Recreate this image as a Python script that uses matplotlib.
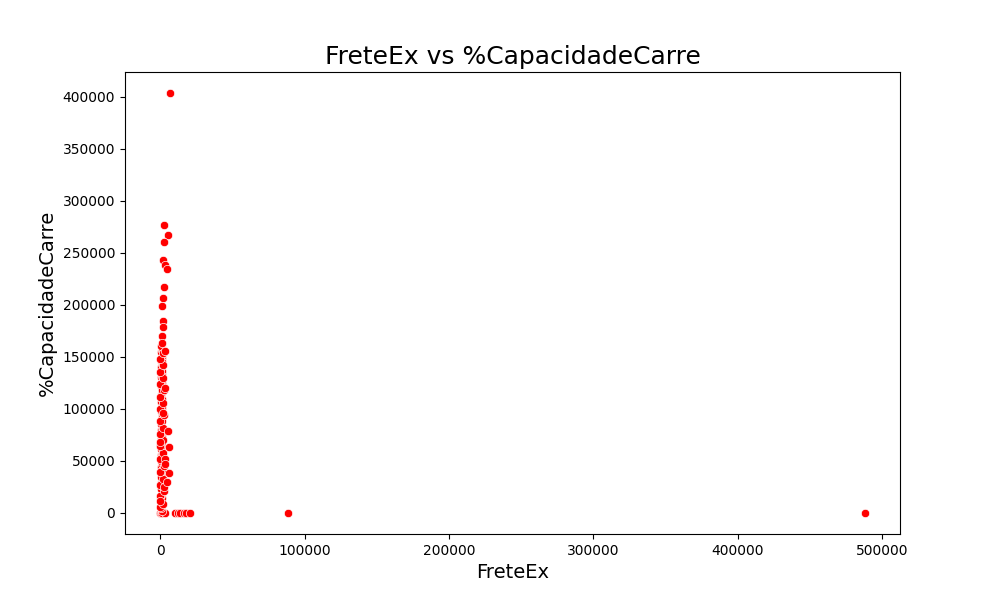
import matplotlib
matplotlib.use("Agg")
import matplotlib.pyplot as plt
import seaborn as sns
import pandas as pd

# Outlying points
outlier_frete = [6900, 2800, 5300, 2300, 1600, 3500, 4600, 2400, 1900, 1400, 2000, 1700, 1500, 88700, 488000]
outlier_cap = [403800, 276600, 267000, 260300, 243000, 238500, 234300, 217000, 206400, 199300, 184900, 178500, 170500, 0, 0]

# Points along the zero line
zero_frete = [0, 600, 1200, 3500, 10000, 12000, 14000, 16500, 18000, 20500]
zero_cap = [0, 0, 0, 0, 0, 0, 0, 0, 0, 0]

# Dense column near FreteEx = 0
col_frete = [
    900, 400, 1300, 700, 1100, 200, 1500, 800, 1000, 600,
    1200, 300, 900, 1400, 700, 1000, 500, 1300, 800, 1100,
    600, 1200, 900, 400, 1000, 1300, 700, 1100, 800, 500,
    1200, 900, 600, 1400, 1000, 700, 1100, 800, 1300, 900,
    500, 1000, 1200, 700, 900, 1100, 600, 1300, 800, 1000,
    900, 1200, 700, 1100, 1000, 800, 1300, 900, 1200, 1000,
    1100, 900, 1300, 1000, 1200,
]
col_cap = [
    2000, 5000, 8000, 11000, 14000, 17000, 20000, 23000, 26000, 29000,
    32000, 35000, 38000, 41000, 44000, 47000, 50000, 53000, 56000, 59000,
    62000, 65000, 68000, 71000, 74000, 77000, 80000, 83000, 86000, 89000,
    92000, 95000, 98000, 101000, 104000, 107000, 110000, 113000, 116000, 119000,
    122000, 125000, 128000, 131000, 134000, 137000, 140000, 143000, 146000, 149000,
    151000, 153000, 155000, 157000, 159000, 161000, 163000, 145000, 132000, 118000,
    103000, 88000, 72000, 57000, 41000,
]

# Halo points slightly left / right of the column
halo_frete = [
    0, 2000, 0, 2300, 0, 2100, 0, 2400, 0, 1900,
    0, 2200, 0, 2000, 0, 2400, 0, 2100, 0, 2300,
    0, 1900, 0, 2200, 0, 2000, 0, 2500, 0, 2100,
    5300, 6400, 6000, 4600, 3200, 3500, 3000, 3300,
]
halo_cap = [
    6000, 9000, 16000, 21000, 27000, 33000, 39000, 45000, 52000, 58000,
    64000, 70000, 76000, 82000, 88000, 94000, 100000, 106000, 112000, 118000,
    124000, 130000, 136000, 142000, 148000, 154000, 12000, 25000, 68000, 96000,
    79100, 63200, 38200, 30100, 52000, 47000, 120000, 156000,
]

frete = outlier_frete + zero_frete + col_frete + halo_frete
cap = outlier_cap + zero_cap + col_cap + halo_cap
df = pd.DataFrame({"FreteEx": frete, "%CapacidadeCarre": cap})

fig, ax = plt.subplots(figsize=(10, 6), dpi=100)
sns.scatterplot(data=df, x="FreteEx", y="%CapacidadeCarre", color="red", ax=ax)
ax.set_title("FreteEx vs %CapacidadeCarre", fontsize=18)
ax.set_xlabel("FreteEx", fontsize=14)
ax.set_ylabel("%CapacidadeCarre", fontsize=14)
fig.savefig("out.png")
